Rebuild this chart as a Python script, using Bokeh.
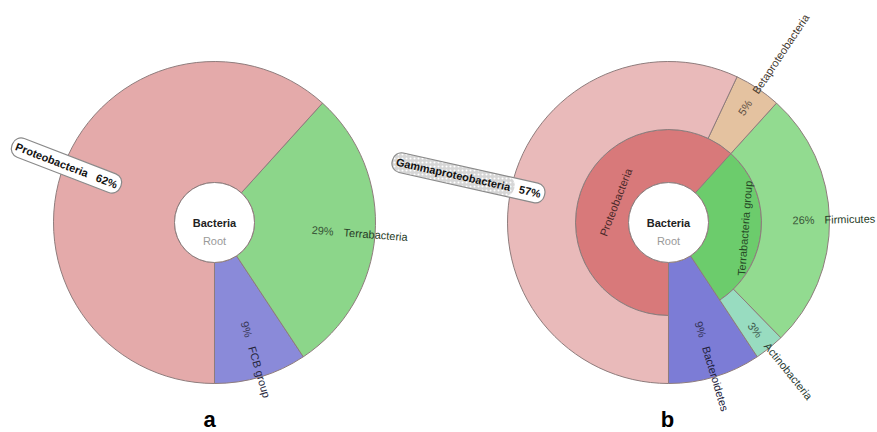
import numpy as np
from bokeh.plotting import figure
from bokeh.models import Range1d
from bokeh.core.properties import value
from bokeh.embed import file_html
from bokeh.resources import INLINE

W, H = 877, 432
FONT = value("Liberation Sans")

# ---------------- data ----------------
root_label = "Bacteria"
root_rank = "Root"
panel_letters = ["a", "b"]

# panel a : one ring
a_names = ["FCB group", "Terrabacteria", "Proteobacteria"]
a_pct = [9.3, 29.0, 61.7]
a_colors = ["#8a8ad9", "#8cd68a", "#e4aaaa"]

# panel b : inner ring (phyla / groups)
b_inner_names = ["Bacteroidetes", "Terrabacteria group", "Proteobacteria"]
b_inner_pct = [9.3, 29.0, 61.7]
b_inner_colors = ["#7c7cd6", "#6ccc6c", "#d8797a"]
b_inner_leaf = [True, False, False]

# panel b : outer ring (classes)
b_outer_names = ["Actinobacteria", "Firmicutes", "Betaproteobacteria", "Gammaproteobacteria"]
b_outer_pct = [3.0, 26.0, 4.7, 57.0]
b_outer_colors = ["#98dcc0", "#92db90", "#e4c2a0", "#e9baba"]

HATCHED = {"Gammaproteobacteria"}

# ---------------- geometry / style ----------------
CA = (214, 210)
CB = (668, 210)
R_HOLE, R_MID, R_OUT = 40, 93, 161
START = 1.5 * np.pi
LINE = "#8e7c7c"

p = figure(width=W, height=H, x_range=Range1d(0, W), y_range=Range1d(0, H),
           output_backend="svg", toolbar_location=None, min_border=0,
           x_axis_type=None, y_axis_type=None)
p.grid.visible = False
p.outline_line_color = None
p.background_fill_color = "white"
p.border_fill_color = "white"


def spans(pcts, start):
    c = start + np.concatenate([[0.0], np.cumsum(pcts)]) / 100.0 * 2 * np.pi
    return c[:-1], c[1:]


def dark(hexcol, f):
    h = hexcol.lstrip("#")
    r, g, b = (int(h[i:i + 2], 16) for i in (0, 2, 4))
    return "#%02x%02x%02x" % (int(r * f), int(g * f), int(b * f))


def txt(x, y, s, ang, size, color, align, bold=False, **kw):
    p.text(x=[x], y=[y], text=[s], angle=ang, text_font=FONT,
           text_font_size=f"{size}px", text_color=color, text_align=align,
           text_baseline="middle", text_font_style="bold" if bold else "normal", **kw)


def pct_str(v):
    return f"{int(round(v))}%"


def leaf_label(c, r0, r1, a0, a1, name, pct, color):
    mid = (a0 + a1) / 2.0
    mid = np.arctan2(np.sin(mid), np.cos(mid))
    cx, cy = c
    if np.cos(mid) >= 0:
        ra = (r0 + r1) / 2.0 + 19
        txt(cx + ra * np.cos(mid), cy + ra * np.sin(mid), pct_str(pct), mid, 11,
            dark(color, 0.4), "right")
        rn = ra + 10
        txt(cx + rn * np.cos(mid), cy + rn * np.sin(mid), name, mid, 11,
            dark(color, 0.28), "left")
    else:
        ang = mid - np.pi
        ra = (r0 + r1) / 2.0
        ax, ay = cx + ra * np.cos(mid), cy + ra * np.sin(mid)
        full = name + "\u00a0\u00a0\u00a0" + pct_str(pct)
        if name in HATCHED:
            txt(ax, ay, full, ang, 11, "black", "right", bold=True, text_alpha=0,
                background_fill_color="white", padding=4, border_radius=9)
            off = 31
            nx, ny = ax - off * np.cos(ang), ay - off * np.sin(ang)
            txt(nx, ny, name, ang, 11, "black", "right", bold=True, text_alpha=0,
                background_fill_color="#d6d6d6",
                background_hatch_pattern="dot", background_hatch_color="white",
                background_hatch_scale=4, padding=4, border_radius=9)
            txt(ax, ay, full, ang, 11, "#111111", "right", bold=True,
                border_line_color="#8a8a8a", border_line_width=1.2,
                padding=4, border_radius=9)
        else:
            txt(ax, ay, full, ang, 11, "#111111", "right", bold=True,
                background_fill_color="white", border_line_color="#8a8a8a",
                border_line_width=1.2, padding=4, border_radius=9)


def inner_label(c, r0, r1, a0, a1, name, color):
    mid = (a0 + a1) / 2.0
    mid = np.arctan2(np.sin(mid), np.cos(mid))
    cx, cy = c
    rm = (r0 + r1) / 2.0
    if np.cos(mid) >= 0:
        ang, r = mid + np.pi / 2, rm + 10
    else:
        ang, r = mid - np.pi / 2, rm - 10
    txt(cx + r * np.cos(mid), cy + r * np.sin(mid), name, ang, 11,
        dark(color, 0.35), "center")


def center(c):
    cx, cy = c
    p.circle(x=[cx], y=[cy], radius=R_HOLE, fill_color="white",
             line_color=LINE, line_width=1)
    txt(cx, cy, root_label, 0, 11, "#222222", "center", bold=True)
    txt(cx, cy - 18, root_rank, 0, 11, "#9a9a9a", "center")


# ---------------- panel a ----------------
s, e = spans(a_pct, START)
p.annular_wedge(x=CA[0], y=CA[1], inner_radius=R_HOLE, outer_radius=R_OUT,
                start_angle=s, end_angle=e, fill_color=a_colors,
                line_color=LINE, line_width=1)
center(CA)
for n, v, col, a0, a1 in zip(a_names, a_pct, a_colors, s, e):
    leaf_label(CA, R_HOLE, R_OUT, a0, a1, n, v, col)

# ---------------- panel b ----------------
si, ei = spans(b_inner_pct, START)
ro = [R_OUT if lf else R_MID for lf in b_inner_leaf]
p.annular_wedge(x=CB[0], y=CB[1], inner_radius=R_HOLE, outer_radius=ro,
                start_angle=si, end_angle=ei, fill_color=b_inner_colors,
                line_color=LINE, line_width=1)
so, eo = spans(b_outer_pct, ei[0])
p.annular_wedge(x=CB[0], y=CB[1], inner_radius=R_MID, outer_radius=R_OUT,
                start_angle=so, end_angle=eo, fill_color=b_outer_colors,
                line_color=LINE, line_width=1)
center(CB)
for n, v, col, lf, a0, a1 in zip(b_inner_names, b_inner_pct, b_inner_colors,
                                  b_inner_leaf, si, ei):
    if lf:
        leaf_label(CB, R_HOLE, R_OUT, a0, a1, n, v, col)
    else:
        inner_label(CB, R_HOLE, R_MID, a0, a1, n, col)
for n, v, col, a0, a1 in zip(b_outer_names, b_outer_pct, b_outer_colors, so, eo):
    leaf_label(CB, R_MID, R_OUT, a0, a1, n, v, col)

# ---------------- panel letters ----------------
for letter, xpos in zip(panel_letters, [209, 667]):
    p.text(x=[xpos], y=[13], text=[letter], text_font=FONT, text_font_size="22px",
           text_font_style="bold", text_color="black", text_align="center",
           text_baseline="middle")

open("out.html", "w").write(file_html(p, INLINE))
